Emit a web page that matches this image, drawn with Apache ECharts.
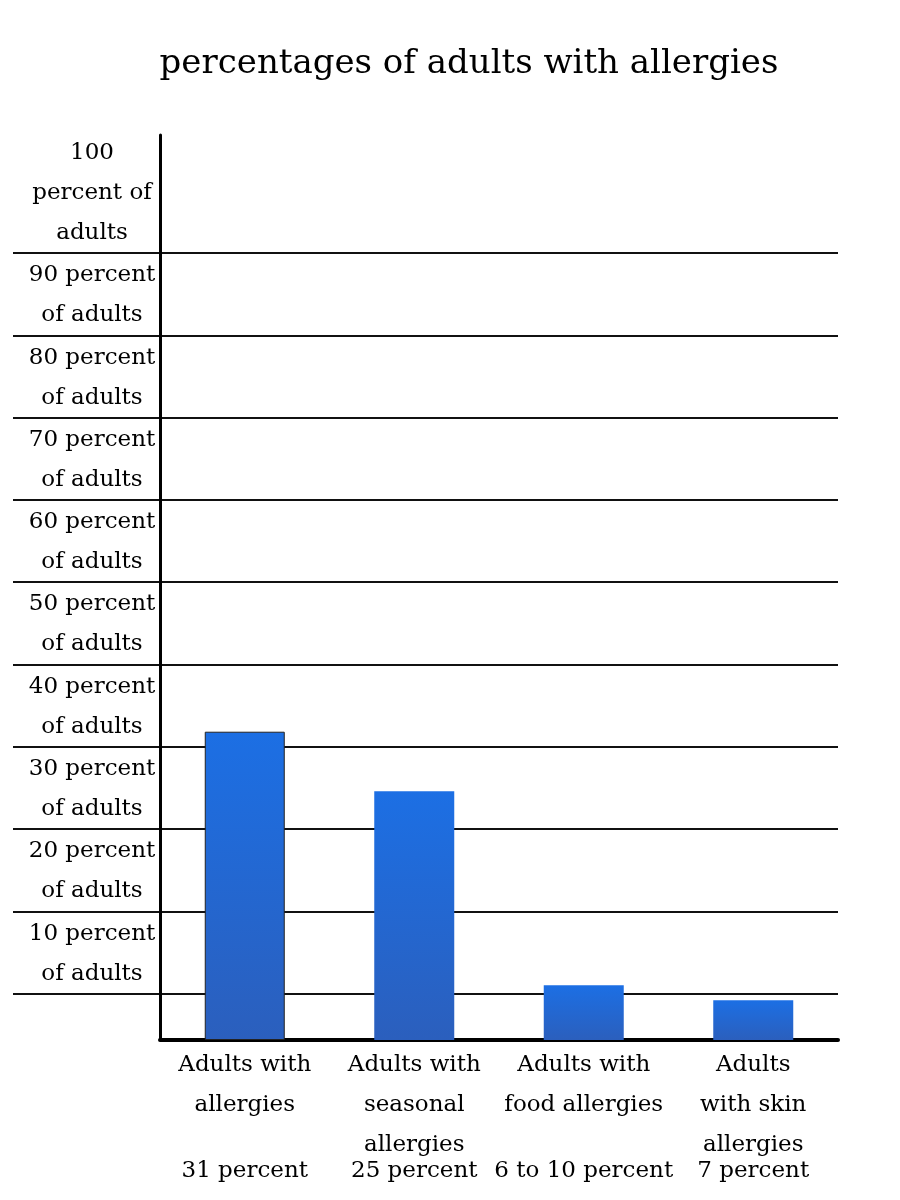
<!DOCTYPE html>
<html>
<head>
<meta charset="utf-8">
<script src="https://cdn.jsdelivr.net/npm/echarts@6/dist/echarts.min.js"></script>
<style>
  html, body { margin: 0; padding: 0; background: #fff; }
  #chart { width: 900px; height: 1200px; }
</style>
</head>
<body>
<div id="chart"></div>
<script>
// data
const categories = ['Adults with\nallergies', 'Adults with\nseasonal\nallergies', 'Adults with\nfood allergies', 'Adults\nwith skin\nallergies']
const percentLabels = ['31 percent', '25 percent', '6 to 10 percent', '7 percent']
// bar heights as drawn (hand drawn chart, bars are not on the gridline scale)
const barValues = [31, 25, 5.5, 4]
const tickValues = [10, 20, 30, 40, 50, 60, 70, 80, 90, 100]
const tickLabels = ['10 percent\nof adults', '20 percent\nof adults', '30 percent\nof adults', '40 percent\nof adults', '50 percent\nof adults',
  '60 percent\nof adults', '70 percent\nof adults', '80 percent\nof adults', '90 percent\nof adults', '100\npercent of\nadults']

const font = 'DejaVu Serif'
const chart = echarts.init(document.getElementById('chart'))

const barColor = new echarts.graphic.LinearGradient(0, 0, 0, 1, [
  { offset: 0, color: '#1c6fe4' },
  { offset: 1, color: '#2b5fbd' }
])

chart.setOption({
  backgroundColor: '#fff',
  animation: false,
  title: {
    text: 'percentages of adults with allergies',
    left: 464,
    top: 42,
    textAlign: 'center',
    textStyle: { fontFamily: font, fontSize: 34, fontWeight: 'normal', color: '#000' }
  },
  grid: [
    // gridlines + left labels, lines run across the label column
    { left: 13, right: 62, top: 253, bottom: 124, outerBoundsMode: 'none' },
    // bars
    { left: 160, right: 62, top: 135, bottom: 160, outerBoundsMode: 'none' }
  ],
  xAxis: [
    { gridIndex: 0, type: 'value', show: false },
    {
      gridIndex: 1,
      type: 'category',
      data: categories,
      axisLine: { lineStyle: { color: '#000', width: 4 } },
      axisTick: { show: false },
      axisLabel: { margin: 5, fontFamily: font, fontSize: 23, lineHeight: 40, color: '#000', interval: 0 }
    },
    {
      gridIndex: 1,
      type: 'category',
      position: 'bottom',
      data: percentLabels,
      axisLine: { show: false },
      axisTick: { show: false },
      axisLabel: { margin: 117, fontFamily: font, fontSize: 23, lineHeight: 28, color: '#000', interval: 0 }
    }
  ],
  yAxis: [
    {
      gridIndex: 0,
      type: 'value',
      min: 0,
      max: 100,
      interval: 10,
      axisLine: { show: false },
      axisTick: { show: false },
      splitLine: { show: true, showMinLine: false, lineStyle: { color: '#111', width: 2 } },
      axisLabel: {
        inside: true,
        margin: 79,
        align: 'center',
        verticalAlign: 'bottom',
        fontFamily: font,
        fontSize: 23,
        lineHeight: 40,
        color: '#000',
        formatter: v => {
          const i = tickValues.indexOf(v)
          return i < 0 ? '' : tickLabels[i]
        }
      }
    },
    {
      gridIndex: 1,
      type: 'value',
      min: 0,
      max: 91,
      axisLine: { show: true, lineStyle: { color: '#000', width: 3 } },
      axisTick: { show: false },
      axisLabel: { show: false },
      splitLine: { show: false }
    }
  ],
  series: [
    {
      type: 'bar',
      xAxisIndex: 1,
      yAxisIndex: 1,
      barWidth: 80,
      itemStyle: { color: barColor },
      data: barValues.map((v, i) => i === 0
        ? { value: v, itemStyle: { borderColor: '#222', borderWidth: 1 } }
        : v)
    }
  ]
})
window.addEventListener('resize', () => chart.resize())
</script>
</body>
</html>
